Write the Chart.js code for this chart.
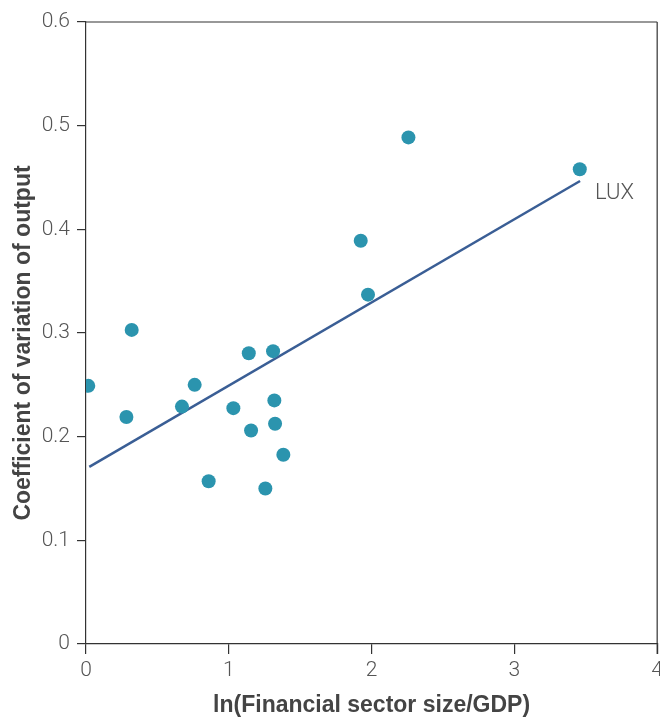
<!DOCTYPE html>
<html>
<head>
<meta charset="utf-8">
<script src="https://cdn.jsdelivr.net/npm/chart.js@4"></script>
<style>
html,body{margin:0;padding:0;background:#fff;overflow:hidden;}
#wrap{width:700px;height:717px;position:relative;}
</style>
</head>
<body>
<div id="wrap"><canvas id="c" width="664" height="717" style="width:664px;height:717px"></canvas></div>
<script>
// Data
const pointsX = [0.016, 0.283, 0.32, 0.672, 0.761, 0.859, 1.032, 1.14, 1.156, 1.256, 1.31, 1.319, 1.324, 1.382, 1.924, 1.975, 2.258, 3.458];
const pointsY = [0.249, 0.219, 0.303, 0.229, 0.250, 0.157, 0.2275, 0.2805, 0.206, 0.150, 0.2825, 0.235, 0.2125, 0.1825, 0.389, 0.337, 0.4887, 0.458];
const fitX = [0.023, 3.46];
const fitY = [0.1709, 0.4466];
const xTicks = [0, 1, 2, 3, 4];
const yTicks = [0, 0.1, 0.2, 0.3, 0.4, 0.5, 0.6];
const labelText = 'LUX';
const labelPoint = {x: 3.46, y: 0.4466};
const xTitle = 'ln(Financial sector size/GDP)';
const yTitle = 'Coefficient of variation of output';

const tickFont = {family: 'Roboto, "Liberation Sans", sans-serif', size: 21, weight: '300'};
const axisColor = '#333';
const textColor = '#555';
const targetRight = 657;

const decor = {
  id: 'decor',
  afterDraw(chart) {
    const {ctx, chartArea: a, scales} = chart;
    ctx.save();
    ctx.strokeStyle = axisColor;
    ctx.lineWidth = 1.2;
    ctx.beginPath();
    ctx.moveTo(a.left, a.top); ctx.lineTo(a.right, a.top);
    ctx.moveTo(a.right, a.top); ctx.lineTo(a.right, a.bottom + 10);
    ctx.stroke();
    // label
    ctx.fillStyle = textColor;
    ctx.font = '300 22px Roboto, "Liberation Sans", sans-serif';
    ctx.textBaseline = 'middle';
    ctx.textAlign = 'left';
    ctx.fillText(labelText, scales.x.getPixelForValue(labelPoint.x) + 15, scales.y.getPixelForValue(labelPoint.y) + 12);
    // titles
    ctx.fillStyle = '#444';
    ctx.font = 'bold 23px "Liberation Sans", Arial, sans-serif';
    ctx.textAlign = 'center';
    ctx.fillText(xTitle, (a.left + a.right) / 2, 706);
    ctx.translate(24, (a.top + a.bottom) / 2 + 10);
    ctx.rotate(-Math.PI / 2);
    ctx.fillText(yTitle, 0, 0);
    ctx.restore();
  }
};

const chart = new Chart(document.getElementById('c'), {
  type: 'scatter',
  data: {
    datasets: [
      {
        type: 'line',
        data: fitX.map((x, i) => ({x, y: fitY[i]})),
        borderColor: '#3a5e95',
        borderWidth: 2.5,
        pointRadius: 0,
        fill: false,
        order: 2
      },
      {
        data: pointsX.map((x, i) => ({x, y: pointsY[i]})),
        backgroundColor: '#2b94ae',
        borderColor: '#2b94ae',
        borderWidth: 0,
        pointRadius: 7,
        order: 1
      }
    ]
  },
  options: {
    responsive: false,
    maintainAspectRatio: false,
    animation: false,
    devicePixelRatio: 1,
    layout: {padding: {left: 0, top: 22, right: 0, bottom: 0}},
    plugins: {legend: {display: false}, tooltip: {enabled: false}},
    scales: {
      x: {
        type: 'linear', min: 0, max: 4,
        afterBuildTicks: s => { s.ticks = xTicks.map(v => ({value: v})); },
        afterFit: s => { s.height = 73; },
        grid: {drawOnChartArea: false, drawTicks: true, tickLength: 10, color: axisColor, lineWidth: 1.2},
        border: {display: true, color: axisColor, width: 1.2},
        ticks: {font: tickFont, color: textColor, padding: 4, callback: v => String(v)}
      },
      y: {
        type: 'linear', min: 0, max: 0.6,
        afterBuildTicks: s => { s.ticks = yTicks.map(v => ({value: v})); },
        afterFit: s => { s.width = 86; },
        grid: {drawOnChartArea: false, drawTicks: true, tickLength: 9, color: axisColor, lineWidth: 1.2},
        border: {display: true, color: axisColor, width: 1.2},
        ticks: {font: tickFont, color: textColor, padding: 7, callback: v => String(Math.round(v * 10) / 10)}
      }
    }
  },
  plugins: [decor]
});
const diff = Math.round(targetRight - chart.chartArea.right);
if (diff !== 0) {
  const w = chart.width + diff;
  chart.canvas.style.width = w + 'px';
  chart.resize(w, 717);
}
</script>
</body>
</html>
